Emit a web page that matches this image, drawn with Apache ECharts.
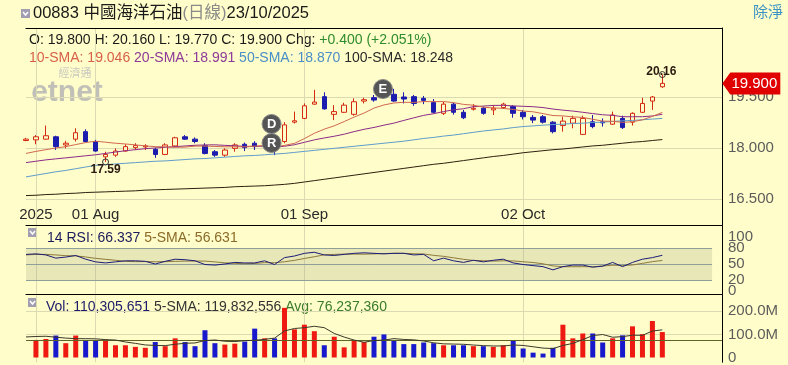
<!DOCTYPE html>
<html><head><meta charset="utf-8">
<script src="https://cdn.jsdelivr.net/npm/echarts@6/dist/echarts.min.js"></script>
<style>html,body{margin:0;padding:0;background:#FFFDC9;}#c{width:788px;height:365px;}</style>
</head><body><div id="c"></div>
<script>
// ---------- data ----------
const dates = ['2025-07-23','2025-07-24','2025-07-25','2025-07-28','2025-07-29','2025-07-30','2025-07-31',
'2025-08-01','2025-08-04','2025-08-05','2025-08-06','2025-08-07','2025-08-08','2025-08-11','2025-08-12','2025-08-13','2025-08-14','2025-08-15','2025-08-18','2025-08-19','2025-08-20','2025-08-21','2025-08-22','2025-08-25','2025-08-26','2025-08-27','2025-08-28','2025-08-29',
'2025-09-01','2025-09-02','2025-09-03','2025-09-04','2025-09-05','2025-09-08','2025-09-09','2025-09-10','2025-09-11','2025-09-12','2025-09-15','2025-09-16','2025-09-17','2025-09-18','2025-09-19','2025-09-22','2025-09-23','2025-09-24','2025-09-25','2025-09-26','2025-09-29','2025-09-30',
'2025-10-02','2025-10-03','2025-10-06','2025-10-08','2025-10-09','2025-10-10','2025-10-13','2025-10-14','2025-10-15','2025-10-16','2025-10-17','2025-10-20','2025-10-21','2025-10-22','2025-10-23'];
const open  = [18.22,18.24,18.26,18.33,18.09,18.26,18.48,18.19,17.74,17.79,17.91,18.01,18.03,17.96,17.81,18.06,18.33,18.26,18.07,17.89,17.79,17.99,18.11,18.14,18.09,18.14,18.19,18.76,18.87,19.29,19.51,18.99,19.05,18.99,19.38,19.48,19.66,19.58,19.50,19.51,19.46,19.34,19.02,19.29,19.05,19.14,19.17,19.12,19.19,19.22,19.05,18.90,18.92,18.76,18.66,18.73,18.40,18.77,18.77,18.70,18.87,18.76,19.05,19.38,19.80];
const high  = [18.30,18.38,18.66,18.36,18.21,18.58,18.55,18.24,17.89,17.99,18.11,18.14,18.11,18.01,18.14,18.33,18.38,18.31,18.14,17.94,17.99,18.14,18.16,18.20,18.28,18.20,18.76,19.07,19.31,19.71,19.64,19.26,19.33,19.46,19.48,19.56,19.72,19.74,19.64,19.56,19.53,19.44,19.36,19.33,19.12,19.29,19.22,19.26,19.33,19.26,19.12,18.97,18.97,18.79,18.92,18.95,18.95,18.97,18.87,19.07,18.95,19.05,19.48,19.53,20.16];
const low   = [18.20,18.11,18.25,17.94,17.99,18.19,18.16,17.89,17.59,17.74,17.89,17.94,17.94,17.71,17.79,18.04,18.24,18.14,17.81,17.74,17.74,17.89,17.91,17.94,18.04,17.79,18.14,18.72,18.85,19.27,19.13,18.82,19.03,18.95,19.31,19.36,19.45,19.36,19.31,19.24,19.29,19.02,18.97,18.98,18.85,19.10,18.98,18.97,19.15,18.89,18.84,18.73,18.72,18.43,18.48,18.58,18.38,18.58,18.63,18.68,18.56,18.66,19.03,19.12,19.77];
const close = [18.26,18.33,18.36,18.04,18.14,18.45,18.19,17.91,17.81,17.91,18.04,18.07,18.06,17.81,18.09,18.30,18.26,18.19,17.84,17.79,17.94,18.09,18.01,18.04,18.24,17.94,18.68,18.80,19.24,19.35,19.15,19.07,19.26,19.36,19.42,19.41,19.60,19.38,19.44,19.31,19.40,19.05,19.29,19.05,18.89,19.17,19.02,19.17,19.29,19.02,18.92,18.82,18.76,18.48,18.79,18.87,18.87,18.63,18.74,18.97,18.60,19.02,19.31,19.50,19.90];
const sma10 = [17.84,17.90,17.95,18.00,18.04,18.10,18.16,18.20,18.17,18.14,18.118,18.092,18.062,18.039,18.034,18.019,18.026,18.054,18.057,18.045,18.035,18.037,18.032,18.055,18.070,18.034,18.076,18.137,18.277,18.433,18.554,18.652,18.777,18.909,19.027,19.174,19.266,19.324,19.344,19.340,19.365,19.363,19.366,19.335,19.282,19.258,19.200,19.179,19.164,19.135,19.087,19.064,19.011,18.954,18.944,18.914,18.899,18.845,18.790,18.785,18.753,18.773,18.828,18.930,19.046];
const sma20 = [17.57,17.61,17.65,17.68,17.71,17.74,17.77,17.80,17.84,17.88,17.92,17.95,17.98,18.00,18.02,18.04,18.06,18.08,18.09,18.093,18.077,18.065,18.047,18.047,18.052,18.027,18.051,18.096,18.167,18.239,18.295,18.345,18.405,18.482,18.549,18.604,18.671,18.731,18.811,18.887,18.960,19.008,19.072,19.122,19.155,19.216,19.233,19.252,19.254,19.238,19.226,19.214,19.189,19.145,19.113,19.086,19.050,19.012,18.977,18.960,18.920,18.919,18.920,18.942,18.991];
const sma50 = [17.15,17.20,17.25,17.30,17.34,17.39,17.44,17.49,17.51,17.53,17.55,17.57,17.59,17.61,17.62,17.64,17.66,17.68,17.69,17.71,17.73,17.75,17.77,17.78,17.80,17.82,17.84,17.87,17.90,17.93,17.96,17.99,18.02,18.05,18.08,18.11,18.14,18.17,18.20,18.24,18.28,18.31,18.35,18.38,18.42,18.46,18.50,18.53,18.56,18.60,18.63,18.65,18.67,18.69,18.70,18.72,18.73,18.75,18.76,18.78,18.80,18.81,18.83,18.85,18.87];
const sma100 = [16.60,16.61,16.63,16.64,16.66,16.67,16.69,16.70,16.71,16.72,16.73,16.74,16.76,16.77,16.78,16.79,16.80,16.81,16.82,16.83,16.84,16.86,16.87,16.88,16.89,16.91,16.93,16.96,17.00,17.04,17.08,17.12,17.16,17.20,17.24,17.28,17.32,17.36,17.40,17.44,17.48,17.52,17.55,17.59,17.63,17.67,17.71,17.75,17.78,17.82,17.86,17.89,17.92,17.95,17.97,18.00,18.03,18.06,18.08,18.11,18.14,18.17,18.19,18.22,18.248];
const rsi = [68,69,67,61,63,66,59,54,52,54,56,56,55,50,55,59,58,56,49,48,50,53,52,52,56,49,62,65,70,72,67,66,68,70,71,70,69,70,70,67,68,56,61,56,53,57,54,57,59,52,49,47,45,39,45,48,48,44,46,53,45,53,59,62,66.337];
const rsiSma = [67,68,68,67,65.6,65.2,63.2,60.6,58.8,57.0,55.0,54.4,54.6,54.2,54.4,55.0,55.4,55.6,55.4,54.0,52.2,51.2,50.4,51.0,52.6,52.4,54.2,56.8,60.4,63.6,67.2,68.0,68.6,68.6,68.4,69.0,69.6,70.0,70.0,69.2,68.8,66.2,64.4,61.6,58.8,56.6,56.2,55.4,56.0,55.8,54.2,52.8,50.4,46.4,45.0,44.8,45.0,44.8,46.2,47.8,47.2,48.2,51.2,54.4,56.631];
// volumes in millions of shares
const vol = [null,76,80,95,62,95,76,76,78,53,53,46,42,67,49,83,67,49,118,62,56,60,69,125,83,83,215,122,142,114,53,90,44,76,67,90,100,76,58,58,65,62,53,53,53,49,49,46,53,74,39,21,17,42,142,83,104,104,65,83,96,135,101,158,110.31];
const vol5 = [89,91,92,88,84,81.6,81.6,80.8,77.4,75.6,67.2,61.2,54.4,52.2,51.4,57.4,61.6,63.0,73.2,75.8,70.4,69.0,73.0,74.4,78.6,84.0,115.0,125.6,129.0,135.2,129.2,104.2,88.6,75.4,66.0,73.4,75.4,81.8,78.2,76.4,71.4,63.8,59.2,58.2,57.2,54.0,51.4,50.0,50.0,54.2,52.2,46.6,40.8,38.6,52.2,61.0,77.6,95.0,99.6,87.8,90.4,96.6,96.0,114.6,119.83];
const volAvg = 76.237;
const events = [{tag:'D', idx:25, price:18.706}, {tag:'R', idx:25, price:18.147}, {tag:'E', idx:36, price:19.735}];
const lastPrice = 19.900;
const labelIdx = [1, 7, 28, 50];
const labelText = ['2025', '01 Aug', '01 Sep', '02 Oct'];
const priceTicks = [16.5, 18.0, 19.5];
const rsiTicksA = [0, 50, 100];
const rsiTicksB = [20, 80];
const rsiBand = [20, 50, 80];
const volTicks = [0, 100, 200];
const padCount = 6;
const bandEndIdx = 69;

// ---------- styling ----------
const BG = '#FFFDC9';
const FONT = "'Liberation Sans', Arial, 'Noto Sans CJK TC', sans-serif";
const GRID = '#dcdab2';
const UP = '#d42a12', DOWN = '#1c1cae';
const VUP = '#ee1a12', VDOWN = '#1818cc';
const cats = dates.concat(Array.from({length: padCount}, (_, k) => 'pad' + k));
const n = dates.length;
const hiIdx = high.indexOf(Math.max(...high));
const loIdx = low.indexOf(Math.min(...low));

function xCat(gi, withLabels) {
  return {
    type: 'category', gridIndex: gi, data: cats, boundaryGap: false,
    axisLine: {show: false, onZero: false}, axisTick: {show: false},
    axisLabel: withLabels ? {
      show: true, inside: true, margin: 3, color: '#2a2a2a', fontSize: 15, fontFamily: FONT,
      interval: (i) => labelIdx.includes(i),
      formatter: (v, i) => labelText[labelIdx.indexOf(i)]
    } : {show: false},
    splitLine: {show: true, interval: (i) => labelIdx.includes(i), lineStyle: {color: GRID, width: 1}}
  };
}
function xTop(gi) {
  return {type: 'category', gridIndex: gi, data: cats, boundaryGap: false, position: 'top',
    axisLine: {show: true, onZero: false, lineStyle: {color: '#000', width: 1}},
    axisTick: {show: false}, axisLabel: {show: false}, splitLine: {show: false}};
}
function yAx(gi, min, max, ticks, fmt, showLine) {
  return {type: 'value', gridIndex: gi, position: 'right', min, max,
    axisLine: {show: showLine !== false, lineStyle: {color: '#000', width: 1}}, axisTick: {show: false},
    splitLine: {show: false},
    axisLabel: {show: true, customValues: ticks, formatter: fmt, color: '#5c5c5c', fontSize: 15, fontFamily: FONT, margin: 6,
      hideOverlap: false, showMinLabel: true, showMaxLabel: true}};
}

const candleData = dates.map((d, i) => [open[i], close[i], low[i], high[i]]);

const chart = echarts.init(document.getElementById('c'), null, {renderer: 'canvas'});
chart.setOption({
  backgroundColor: BG,
  animation: false,
  textStyle: {fontFamily: FONT},
  grid: [
    {left: 26, top: 28, width: 696, height: 197},
    {left: 26, top: 225, width: 696, height: 69},
    {left: 26, top: 294, width: 696, height: 71}
  ],
  xAxis: [xCat(0, true), xCat(1, false), xCat(2, false), xTop(0), xTop(1), xTop(2)],
  yAxis: [
    yAx(0, 15.735, 21.529, priceTicks, v => v.toFixed(3)),
    yAx(1, -6.25, 123.125, rsiTicksA, v => String(v)),
    yAx(2, -20.83, 275, volTicks, v => v === 0 ? '0' : v.toFixed(1) + 'M'),
    yAx(1, -6.25, 123.125, rsiTicksB, v => String(v), false)
  ],
  series: [
    {type: 'candlestick', xAxisIndex: 0, yAxisIndex: 0, data: candleData, barWidth: 5,
      itemStyle: {color: BG, color0: DOWN, borderColor: UP, borderColor0: DOWN, borderWidth: 1},
      markPoint: {silent: true, symbol: 'circle', data: [
        ...events.map(e => ({coord: [e.idx, e.price], symbol: 'circle', symbolSize: 19, symbolOffset: [e.tag === 'E' ? -1 : -3, 0],
          itemStyle: {color: '#555555', borderColor: '#8a8a8a', borderWidth: 1},
          label: {show: true, position: 'inside', formatter: e.tag, color: '#fff', fontSize: 13, fontWeight: 'bold'}})),
        {coord: [hiIdx, high[hiIdx]], symbol: 'circle', symbolSize: 6,
          itemStyle: {color: 'rgba(0,0,0,0)', borderColor: '#333', borderWidth: 1},
          label: {show: true, position: 'inside', offset: [-1, -3], formatter: high[hiIdx].toFixed(2), color: '#2a1a10', fontSize: 12, fontWeight: 'bold'}},
        {coord: [loIdx, low[loIdx]], symbol: 'circle', symbolSize: 6,
          itemStyle: {color: 'rgba(0,0,0,0)', borderColor: '#333', borderWidth: 1},
          label: {show: true, position: 'inside', offset: [0, 8], formatter: low[loIdx].toFixed(2), color: '#2a1a10', fontSize: 12, fontWeight: 'bold'}},
        {coord: [n - 1, lastPrice], symbol: 'path://M0,11L8,0L58,0L58,22L8,22Z', symbolSize: [58, 22], symbolKeepAspect: false, symbolOffset: [89, 0],
          itemStyle: {color: '#e00000'},
          label: {show: true, position: 'inside', offset: [3, 0], formatter: lastPrice.toFixed(3), color: '#fff', fontSize: 15}}
      ]}
    },
    {type: 'line', xAxisIndex: 0, yAxisIndex: 0, data: sma100, symbol: 'none', lineStyle: {color: '#2e2010', width: 1},
      markLine: {z: 1, silent: true, symbol: ['none', 'none'], label: {show: false},
        lineStyle: {color: GRID, width: 1, type: 'solid'}, data: priceTicks.map(v => ({yAxis: v}))}},
    {type: 'line', xAxisIndex: 0, yAxisIndex: 0, data: sma50, symbol: 'none', lineStyle: {color: '#5f9ccc', width: 1}},
    {type: 'line', xAxisIndex: 0, yAxisIndex: 0, data: sma20, symbol: 'none', lineStyle: {color: '#8c2c88', width: 1}},
    {type: 'line', xAxisIndex: 0, yAxisIndex: 0, data: sma10, symbol: 'none', lineStyle: {color: '#d06850', width: 1}},
    // RSI
    {type: 'line', xAxisIndex: 1, yAxisIndex: 1, data: rsiSma, symbol: 'none', lineStyle: {color: '#8e7a3a', width: 1},
      markArea: {z: 0.5, silent: true, itemStyle: {color: 'rgba(150,155,120,0.22)'},
        data: [[{coord: [0, rsiBand[2]]}, {coord: [bandEndIdx, rsiBand[0]]}]]},
      markLine: {z: 1, silent: true, symbol: ['none', 'none'], label: {show: false},
        lineStyle: {color: '#8fa09a', width: 1, type: 'solid'},
        data: rsiBand.map(v => [{coord: [0, v]}, {coord: [bandEndIdx, v]}])}},
    {type: 'line', xAxisIndex: 1, yAxisIndex: 1, data: rsi, symbol: 'none', lineStyle: {color: '#1c1c78', width: 1}},
    // Volume
    {type: 'bar', xAxisIndex: 2, yAxisIndex: 2, data: vol, barWidth: 5,
      itemStyle: {color: (p) => close[p.dataIndex] >= open[p.dataIndex] ? VUP : VDOWN},
      markLine: {z: 5, silent: true, symbol: ['none', 'none'], label: {show: false},
        lineStyle: {color: '#5e6428', width: 1, type: 'solid'}, data: [{yAxis: volAvg}]}},
    {type: 'line', xAxisIndex: 2, yAxisIndex: 2, data: vol5, symbol: 'none', z: 6, lineStyle: {color: '#3a3a2a', width: 1},
      markLine: {z: 1, silent: true, symbol: ['none', 'none'], label: {show: false},
        lineStyle: {color: GRID, width: 1, type: 'solid'}, data: volTicks.filter(v => v > 0).map(v => ({yAxis: v}))}}
  ],
  graphic: [
    {type: 'rect', shape: {x: 21, y: 9, width: 9, height: 9}, style: {fill: '#a29eb2'}},
    {type: 'polyline', shape: {points: [[23, 12], [25.5, 15], [28, 12]]}, style: {stroke: '#fff', lineWidth: 1.5, fill: null}},
    {type: 'text', x: 33, y: 13.5, style: {text: '{a|00883 中國海洋石油}{g|(日線)}{a|23/10/2025}', verticalAlign: 'middle',
      rich: {a: {fill: '#1a1a1a', fontSize: 16.5, fontFamily: FONT}, g: {fill: '#8a8a8a', fontSize: 16.5, fontFamily: FONT}}}},
    {type: 'text', x: 753, y: 12.5, style: {text: '除淨', fill: '#3a92c4', fontSize: 15, fontFamily: FONT, verticalAlign: 'middle'}},
    {type: 'text', x: 29, y: 40, style: {text: '{d|O: 19.800 H: 20.160 L: 19.770 C: 19.900 Chg: }{g|+0.400 (+2.051%)}', verticalAlign: 'middle',
      rich: {d: {fill: '#1a1a1a', fontSize: 14, fontFamily: FONT}, g: {fill: '#2e8b2e', fontSize: 14, fontFamily: FONT}}}},
    {type: 'text', x: 29, y: 58, style: {text: '{a|10-SMA: 19.046 }{b|20-SMA: 18.991 }{c|50-SMA: 18.870 }{d|100-SMA: 18.248}', verticalAlign: 'middle',
      rich: {a: {fill: '#d8604a', fontSize: 14, fontFamily: FONT}, b: {fill: '#8e3a9a', fontSize: 14, fontFamily: FONT},
        c: {fill: '#4a8ec8', fontSize: 14, fontFamily: FONT}, d: {fill: '#2a2a2a', fontSize: 14, fontFamily: FONT}}}},
    {type: 'text', x: 75, y: 73.5, style: {text: '經濟通', fill: '#c9c9c0', fontSize: 11, fontFamily: FONT, align: 'center', verticalAlign: 'middle'}},
    {type: 'text', x: 67, y: 93, style: {text: 'etnet', fill: '#c0c0b8', fontSize: 30, fontWeight: 'bold', fontFamily: FONT, align: 'center', verticalAlign: 'middle'}},
    {type: 'rect', shape: {x: 28, y: 228, width: 9, height: 9}, style: {fill: '#a29eb2'}},
    {type: 'polyline', shape: {points: [[30, 231], [32.5, 234], [35, 231]]}, style: {stroke: '#fff', lineWidth: 1.5, fill: null}},
    {type: 'text', x: 47, y: 238, style: {text: '{a|14 RSI: 66.337 }{b|5-SMA: 56.631}', verticalAlign: 'middle',
      rich: {a: {fill: '#1c1c5c', fontSize: 14, fontFamily: FONT}, b: {fill: '#8a6a28', fontSize: 14, fontFamily: FONT}}}},
    {type: 'rect', shape: {x: 28, y: 298, width: 9, height: 9}, style: {fill: '#a29eb2'}},
    {type: 'polyline', shape: {points: [[30, 301], [32.5, 304], [35, 301]]}, style: {stroke: '#fff', lineWidth: 1.5, fill: null}},
    {type: 'text', x: 46, y: 307, style: {text: '{a|Vol: 110,305,651 }{b|5-SMA: 119,832,556 }{c|Avg: 76,237,360}', verticalAlign: 'middle',
      rich: {a: {fill: '#1c1c6a', fontSize: 14, fontFamily: FONT}, b: {fill: '#333333', fontSize: 14, fontFamily: FONT}, c: {fill: '#3a7a2a', fontSize: 14, fontFamily: FONT}}}}
  ]
});
</script>
</body></html>
